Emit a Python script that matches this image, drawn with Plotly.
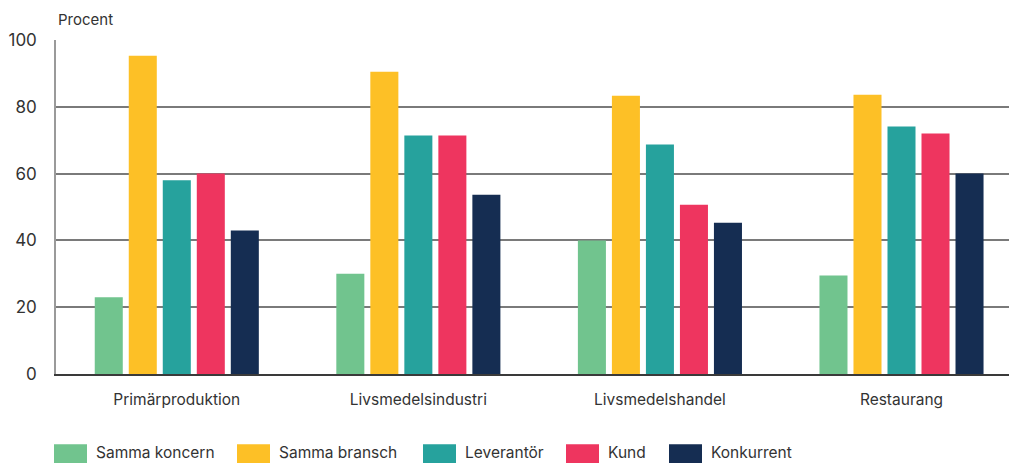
import plotly.graph_objects as go

# Kategorier och serier
categories = ["Primärproduktion", "Livsmedelsindustri", "Livsmedelshandel", "Restaurang"]
series_names = ["Samma koncern", "Samma bransch", "Leverantör", "Kund", "Konkurrent"]
samma_koncern = [23, 30, 40, 29.5]
samma_bransch = [95.3, 90.5, 83.3, 83.6]
leverantor = [58, 71.4, 68.7, 74.1]
kund = [60, 71.4, 50.7, 72]
konkurrent = [43, 53.7, 45.3, 60]
y_ticks = [0, 20, 40, 60, 80, 100]

series_values = [samma_koncern, samma_bransch, leverantor, kund, konkurrent]
colors = ["#71C48E", "#FDC026", "#26A29D", "#EE355F", "#152D52"]

FONT = "Inter, Roboto, Arial, sans-serif"
TEXT = "#333333"

W, H = 1009, 463
L, T, B = 56, 39.5, 89.3
plot_h = H - T - B
plot_w = W - L

fig = go.Figure()
for name, vals, col in zip(series_names, series_values, colors):
    fig.add_trace(go.Bar(
        x=categories, y=vals, name=name,
        marker=dict(color=col, line=dict(width=0)),
        showlegend=False, hoverinfo="x+y+name",
    ))

# Förklaring ritad som rutor och texter under diagrammet
legend_box_x = [54, 237, 423, 566, 669]
box_w, box_top, box_bot = 33, 444, 463


def px_x(px):
    return (px - L) / plot_w


def px_y(py):
    return (H - B - py) / plot_h


shapes = []
annotations = []
for name, col, bx in zip(series_names, colors, legend_box_x):
    shapes.append(dict(type="rect", xref="paper", yref="paper",
                       x0=px_x(bx), x1=px_x(bx + box_w),
                       y0=px_y(box_bot), y1=px_y(box_top),
                       fillcolor=col, line=dict(width=0), layer="above"))
    annotations.append(dict(xref="paper", yref="paper",
                            x=px_x(bx + box_w + 7), y=px_y(452),
                            xanchor="left", yanchor="middle", showarrow=False,
                            text=name, font=dict(family=FONT, size=15.5, color=TEXT)))

annotations.append(dict(xref="paper", yref="paper", x=px_x(56), y=px_y(19),
                        xanchor="left", yanchor="middle", showarrow=False,
                        text="Procent", font=dict(family=FONT, size=15, color=TEXT)))

fig.update_layout(
    width=W, height=H,
    margin=dict(l=L, r=0, t=T, b=B, pad=0),
    paper_bgcolor="white", plot_bgcolor="white",
    barmode="group", bargap=0.296, bargroupgap=0.176,
    font=dict(family=FONT, color=TEXT),
    shapes=shapes, annotations=annotations,
    showlegend=False,
)
fig.update_xaxes(
    range=[-0.5, 3.445], showgrid=False, showline=True,
    linecolor="#3a3a3a", linewidth=2, ticks="",
    tickfont=dict(family=FONT, size=15.5, color=TEXT),
    ticklabelstandoff=10,
)
fig.update_yaxes(
    range=[0, 100], tickvals=y_ticks, showgrid=True,
    gridcolor="#7a7a7a", gridwidth=1.5, zeroline=False,
    showline=True, linecolor="#9a9a9a", linewidth=1.5, ticks="",
    tickfont=dict(family=FONT, size=17, color=TEXT),
    ticklabelstandoff=14,
)

fig.write_html("out.html")
